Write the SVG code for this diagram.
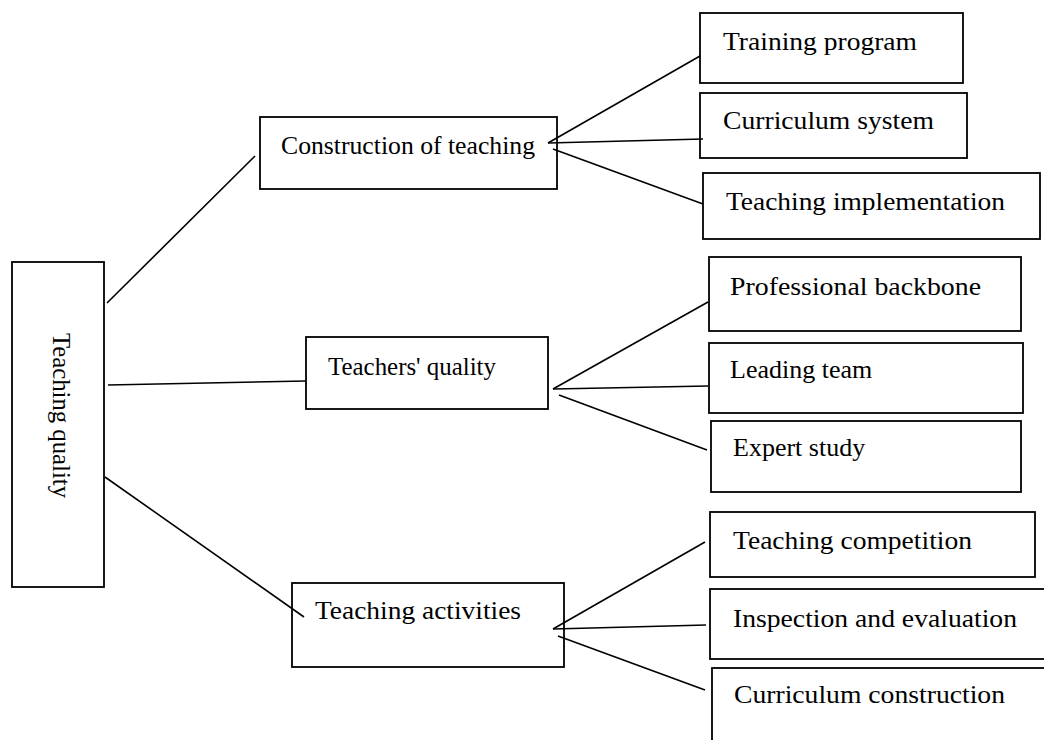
<svg xmlns="http://www.w3.org/2000/svg" width="1044" height="740" viewBox="0 0 1044 740">
<style>
  .box { fill: #ffffff; stroke: #000000; stroke-width: 1.8; }
  .lbl { font-family: "Liberation Serif", "Times New Roman", serif; font-size: 26px; fill: #000000; }
  .conn line { stroke: #000000; stroke-width: 1.6; }
</style>
<rect width="1044" height="740" fill="#ffffff"/>
<g id="teaching-quality">
  <rect class="box" x="12" y="262" width="92" height="325"/>
  <text class="lbl" transform="translate(53,333) rotate(90)" textLength="165" lengthAdjust="spacingAndGlyphs">Teaching quality</text>
</g>
<g id="construction-of-teaching">
  <rect class="box" x="260" y="117" width="297" height="72"/>
  <text class="lbl" x="281" y="154" textLength="254" lengthAdjust="spacingAndGlyphs">Construction of teaching</text>
</g>
<g id="teachers-quality">
  <rect class="box" x="306" y="337" width="242" height="72"/>
  <text class="lbl" x="328" y="375" textLength="168" lengthAdjust="spacingAndGlyphs">Teachers' quality</text>
</g>
<g id="teaching-activities">
  <rect class="box" x="292" y="583" width="272" height="84"/>
  <text class="lbl" x="315" y="619" textLength="206" lengthAdjust="spacingAndGlyphs">Teaching activities</text>
</g>
<g id="training-program">
  <rect class="box" x="700" y="13" width="263" height="70"/>
  <text class="lbl" x="723" y="50" textLength="194" lengthAdjust="spacingAndGlyphs">Training program</text>
</g>
<g id="curriculum-system">
  <rect class="box" x="700" y="93" width="267" height="65"/>
  <text class="lbl" x="723" y="129" textLength="211" lengthAdjust="spacingAndGlyphs">Curriculum system</text>
</g>
<g id="teaching-implementation">
  <rect class="box" x="703" y="173" width="337" height="66"/>
  <text class="lbl" x="726" y="210" textLength="279" lengthAdjust="spacingAndGlyphs">Teaching implementation</text>
</g>
<g id="professional-backbone">
  <rect class="box" x="709" y="257" width="312" height="74"/>
  <text class="lbl" x="730" y="295" textLength="251" lengthAdjust="spacingAndGlyphs">Professional backbone</text>
</g>
<g id="leading-team">
  <rect class="box" x="709" y="343" width="314" height="70"/>
  <text class="lbl" x="730" y="378">Leading team</text>
</g>
<g id="expert-study">
  <rect class="box" x="711" y="421" width="310" height="71"/>
  <text class="lbl" x="733" y="456">Expert study</text>
</g>
<g id="teaching-competition">
  <rect class="box" x="710" y="512" width="325" height="65"/>
  <text class="lbl" x="733" y="549" textLength="239" lengthAdjust="spacingAndGlyphs">Teaching competition</text>
</g>
<g id="inspection-and-evaluation">
  <rect class="box" x="710" y="589" width="345" height="70"/>
  <text class="lbl" x="733" y="627" textLength="284" lengthAdjust="spacingAndGlyphs">Inspection and evaluation</text>
</g>
<g id="curriculum-construction">
  <rect class="box" x="712" y="668" width="345" height="90"/>
  <text class="lbl" x="734" y="703" textLength="271" lengthAdjust="spacingAndGlyphs">Curriculum construction</text>
</g>
<g id="connectors" class="conn">
  <line x1="107" y1="303" x2="255" y2="156"/>
  <line x1="108" y1="385" x2="306" y2="381"/>
  <line x1="105" y1="477" x2="304" y2="617"/>
  <line x1="548" y1="143" x2="700" y2="56"/>
  <line x1="548" y1="143" x2="703" y2="139"/>
  <line x1="553" y1="149" x2="703" y2="204"/>
  <line x1="553" y1="389" x2="708" y2="302"/>
  <line x1="553" y1="389" x2="708" y2="386"/>
  <line x1="559" y1="395" x2="707" y2="450"/>
  <line x1="553" y1="629" x2="705" y2="542"/>
  <line x1="553" y1="629" x2="706" y2="625"/>
  <line x1="558" y1="636" x2="705" y2="690"/>
</g>
</svg>
